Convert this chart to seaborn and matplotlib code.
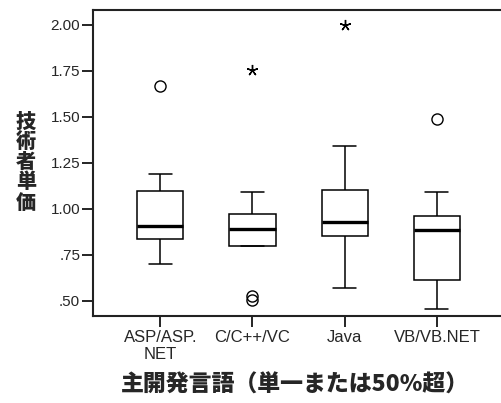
import matplotlib
matplotlib.use('Agg')
import matplotlib.pyplot as plt
import numpy as np
import pandas as pd
import seaborn as sns

# box summaries (SPSS style boxplot)
categories = ['ASP/ASP.\nNET', 'C/C++/VC', 'Java', 'VB/VB.NET']
lower_whisker = [0.70, 0.80, 0.567, 0.457]
q1 = [0.835, 0.80, 0.85, 0.614]
median = [0.904, 0.891, 0.926, 0.886]
q3 = [1.098, 0.971, 1.10, 0.962]
upper_whisker = [1.19, 1.089, 1.342, 1.09]

# outliers: 'o' = circle, '*' = extreme
outlier_cat = ['ASP/ASP.\nNET', 'C/C++/VC', 'C/C++/VC', 'VB/VB.NET', 'C/C++/VC', 'Java']
outlier_val = [1.668, 0.527, 0.505, 1.487, 1.755, 2.00]
outlier_kind = ['o', 'o', 'o', 'o', '*', '*']

yticks = [0.50, 0.75, 1.00, 1.25, 1.50, 1.75, 2.00]
ytick_labels = ['.50', '.75', '1.00', '1.25', '1.50', '1.75', '2.00']

sns.set_style('ticks')
plt.rcParams['font.family'] = ['Liberation Sans', 'DejaVu Sans']
cjk = ['Noto Sans CJK JP', 'DejaVu Sans']

# long table of the five summary points per group
rows = []
for i, c in enumerate(categories):
    for v in (lower_whisker[i], q1[i], median[i], q3[i], upper_whisker[i]):
        rows.append({'lang': c, 'val': v})
df = pd.DataFrame(rows)

fig = plt.figure(figsize=(5.01, 4.03), dpi=100)
W, H = 501, 403
ax = fig.add_axes([92.7 / W, 1 - 316 / H, (W - 92.7) / W, (316 - 10) / H])

sns.boxplot(data=df, x='lang', y='val', order=categories, whis=(0, 100),
            width=0.5, color='white', linecolor='black', linewidth=1.1,
            showfliers=False, medianprops=dict(linewidth=2.4, color='black'),
            ax=ax)

for cat, val, kind in zip(outlier_cat, outlier_val, outlier_kind):
    xpos = categories.index(cat)
    if kind == 'o':
        ax.plot(xpos, val, marker='o', ms=8, mfc='none', mec='black', mew=1.0)
    else:
        ax.plot(xpos, val, marker=(5, 2, 0), ms=8, mec='black', mew=1.0)

ax.set_xlim(-0.732, (W - 160) / 92.3)
ax.set_ylim(0.417, 2.0815)
ax.set_yticks(yticks)
ax.set_yticklabels(ytick_labels, fontsize=11)
ax.tick_params(axis='x', labelsize=12, length=8, width=1.2, pad=2, color='black')
ax.tick_params(axis='y', length=8, width=1.2, pad=1, color='black')
ax.set_xlabel('')
ax.set_ylabel('')

for s in ['left', 'top', 'bottom']:
    ax.spines[s].set_linewidth(1.5)
    ax.spines[s].set_color('#222222')
ax.spines['right'].set_visible(False)

fig.text(26 / W, 1 - 162 / H, '技\n術\n者\n単\n価', family=cjk, fontsize=14.5,
         fontweight='heavy', ha='center', va='center', linespacing=1.02)
fig.text(295 / W, 1 - 385 / H, '主開発言語（単一または50%超）', family=cjk,
         fontsize=16.5, fontweight='heavy', ha='center', va='center')

fig.savefig('out.png', dpi=100)
